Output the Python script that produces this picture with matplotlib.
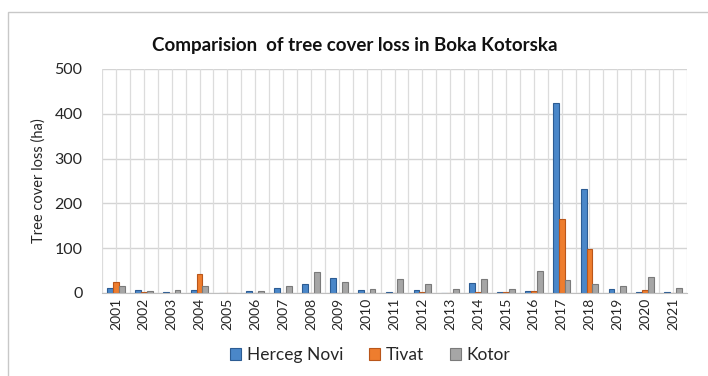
import matplotlib
matplotlib.use("Agg")
import matplotlib.pyplot as plt
import numpy as np
from matplotlib.patches import Rectangle

plt.rcParams["font.family"] = ["Lato", "DejaVu Sans"]

years = [str(y) for y in range(2001, 2022)]
herceg_novi = [12, 7, 3, 7, 0, 5, 12, 20, 33, 7, 3, 7, 0, 22, 3, 5, 425, 233, 10, 3, 2]
tivat = [25, 3, 0, 42, 0, 0, 0, 0, 0, 0, 0, 3, 0, 2, 3, 5, 166, 98, 0, 7, 0]
kotor = [15, 5, 7, 15, 0, 5, 15, 47, 25, 10, 32, 20, 10, 32, 10, 50, 28, 21, 15, 35, 12]

series = [
    ("Herceg Novi", herceg_novi, "#4A87C9", "#2C5C93"),
    ("Tivat", tivat, "#EE7D2E", "#B9561A"),
    ("Kotor", kotor, "#A6A6A6", "#7A7A7A"),
]

fig = plt.figure(figsize=(7.08, 3.76), dpi=100)
# chart area frame
fig.patches.append(Rectangle((8 / 708, -0.1), 1.0, 1 - 12 / 376 + 0.1,
                             transform=fig.transFigure, fill=False,
                             edgecolor="#C8C8C8", linewidth=1.0))

ax = fig.add_axes([102 / 708, 1 - 293 / 376, 585 / 708, 224 / 376])
x = np.arange(len(years))
w = 0.21
for i, (name, vals, fc, ec) in enumerate(series):
    ax.bar(x + (i - 1) * w, vals, width=w, color=fc, edgecolor=ec,
           linewidth=0.8, label=name, zorder=3)

ax.set_xlim(-0.5, len(years) - 0.5)
ax.set_ylim(0, 500)
ax.set_yticks(range(0, 501, 100))
for gx in np.arange(-0.5, len(years), 0.5):
    ax.axvline(gx, color="#DCDCDC", linewidth=0.9, zorder=1)
ax.grid(axis="y", color="#D4D4D4", linewidth=1.0, zorder=1)
ax.set_axisbelow(True)

for s in ["top", "right", "left"]:
    ax.spines[s].set_visible(False)
ax.spines["bottom"].set_color("#BFBFBF")
ax.spines["bottom"].set_zorder(4)
ax.tick_params(length=0)
ax.set_xticks(x)
ax.set_xticklabels(years, rotation=90, fontsize=10, color="#262626")
ax.tick_params(axis="y", labelsize=11.5, labelcolor="#262626", pad=14)
ax.set_ylabel("Tree cover loss (ha)", fontsize=10.5, color="#262626", labelpad=6)

fig.text(355 / 708, 1 - 45 / 376, "Comparision  of tree cover loss in Boka Kotorska",
         fontsize=13.5, fontweight="bold", color="#111111", ha="center", va="center")

fig.legend(loc="center", bbox_to_anchor=(370 / 708, 1 - 355 / 376), ncol=3,
           frameon=False, fontsize=12.5, handlelength=0.65, handleheight=0.65,
           handletextpad=0.3, columnspacing=1.5, labelcolor="#262626")

fig.savefig("out.png", dpi=100)
